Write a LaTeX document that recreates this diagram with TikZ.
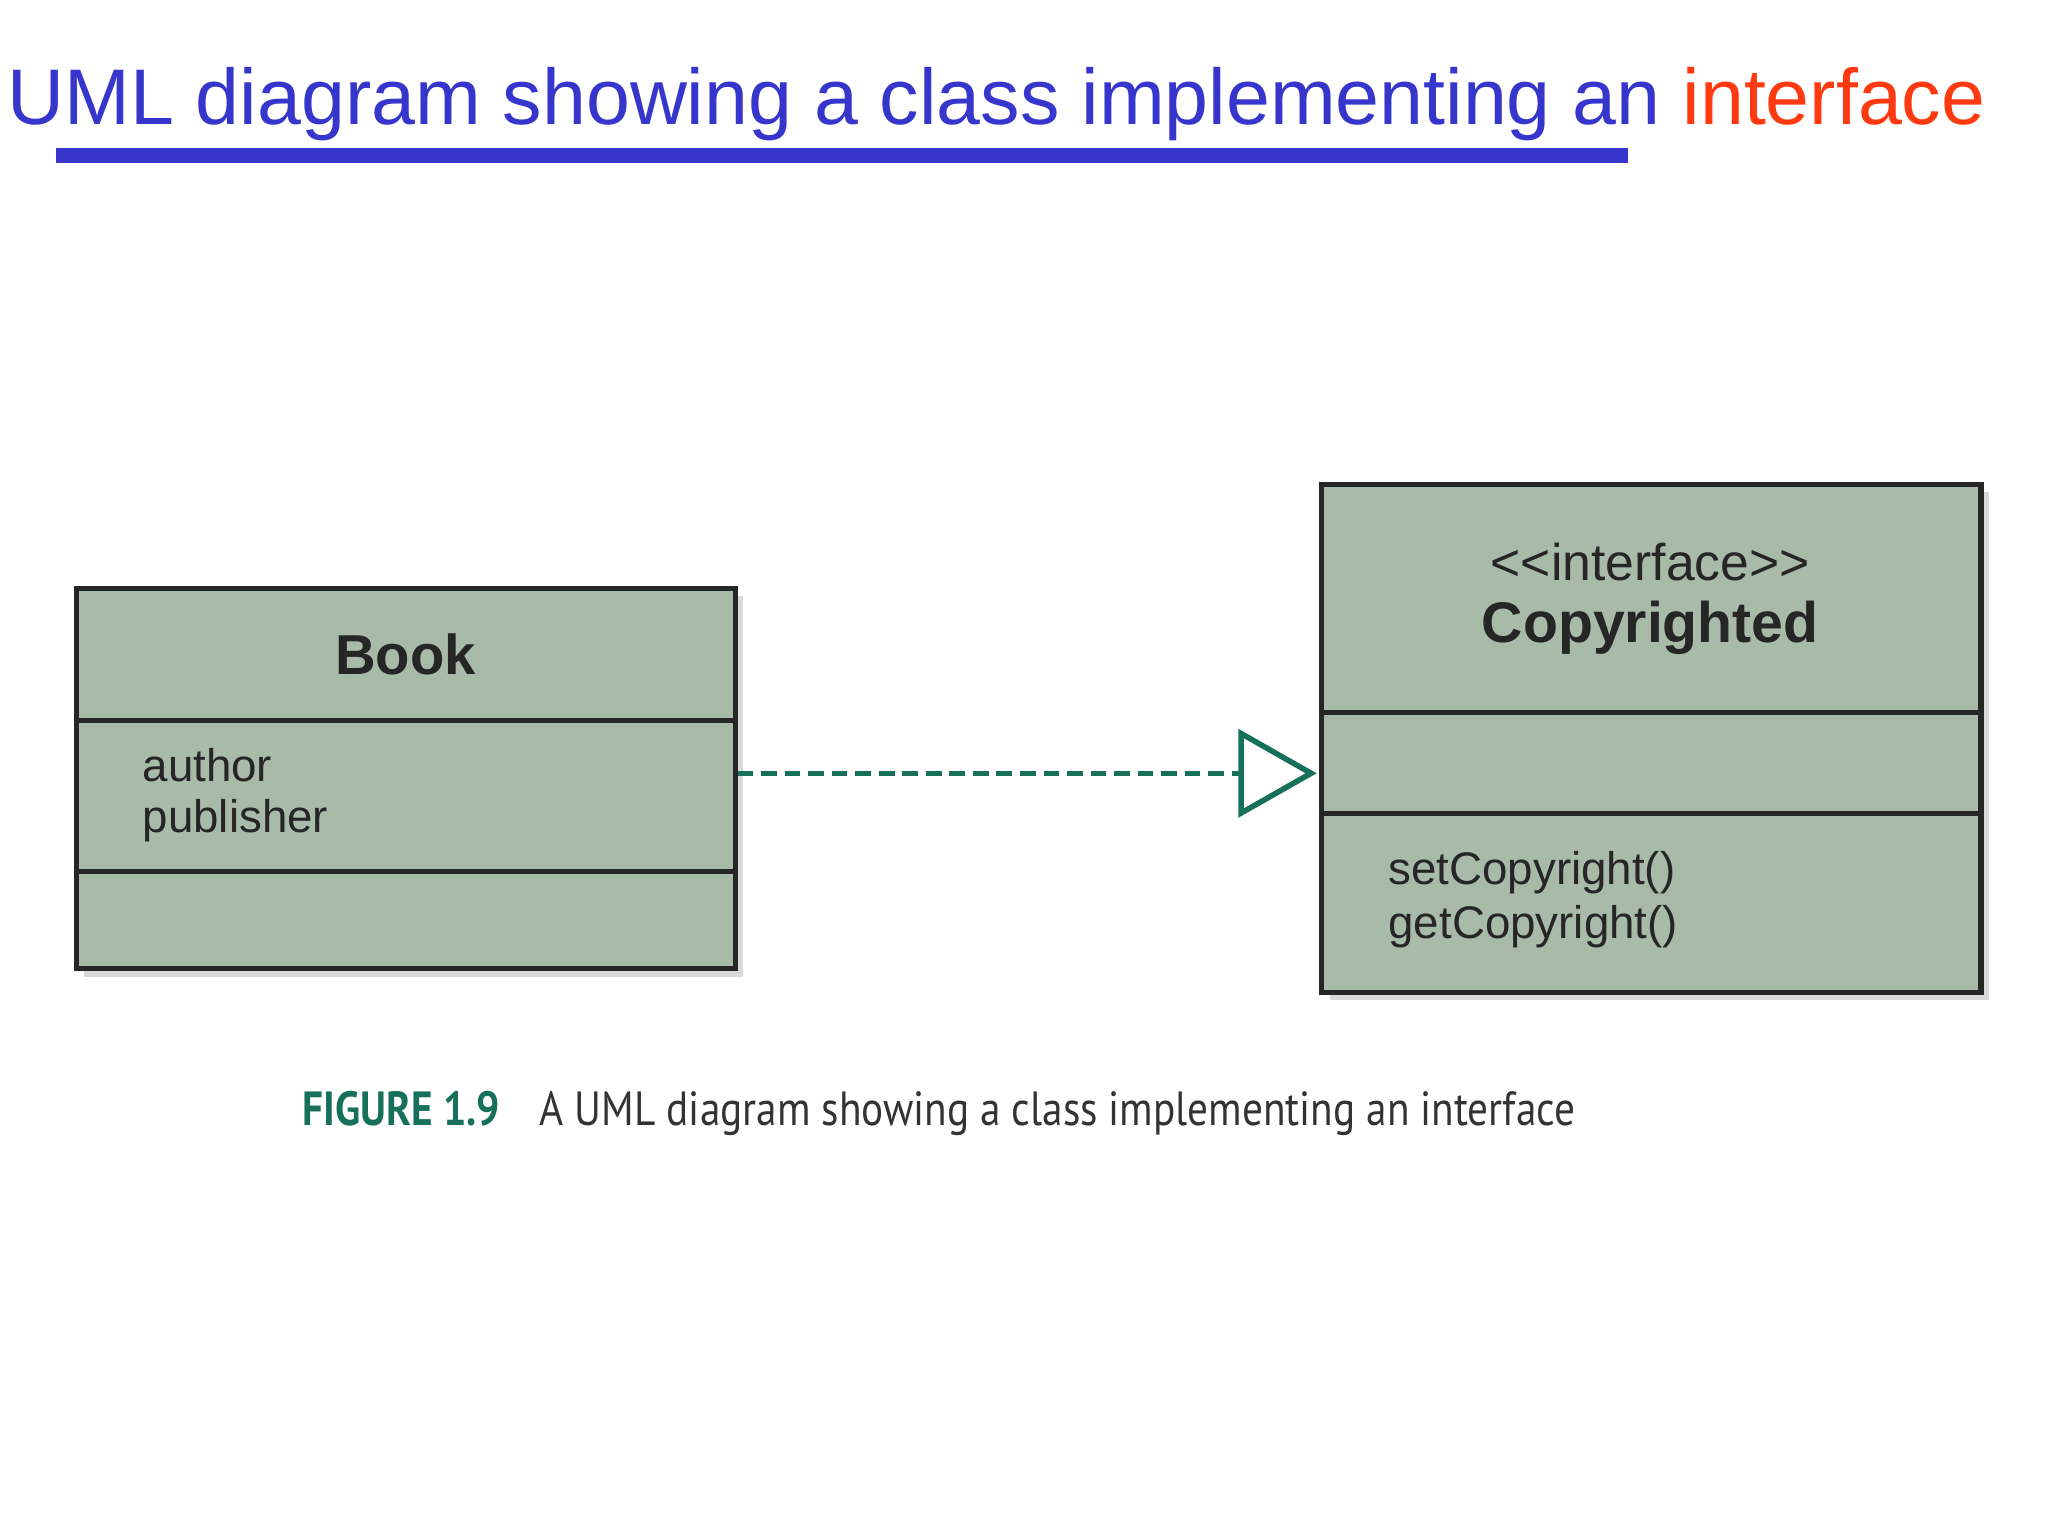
\documentclass[tikz,border=0pt]{standalone}
\usepackage{fontspec}
\setmainfont{Liberation Sans}
\newfontfamily\capfont[FakeStretch=0.86]{PT Sans}
\usetikzlibrary{arrows.meta,positioning}
\definecolor{titleblue}{HTML}{3636CC}
\definecolor{titlered}{HTML}{FF3A10}
\definecolor{boxgreen}{HTML}{A8BAA8}
\definecolor{linegreen}{HTML}{16705A}
\definecolor{capgray}{HTML}{333333}
\tikzset{
  compart/.style={draw=black!85,line width=1.1pt,fill=boxgreen,inner sep=0,anchor=north west},
  shadow/.style={fill=black!15,draw=none},
  member/.style={anchor=west,inner sep=0,font=\fontsize{9.9}{11.5}\selectfont,text=black!85,align=left},
  realize/.style={linegreen,line width=1.2pt,dash pattern=on 3.4pt off 1.7pt,
    -{Triangle[open,length=17pt,width=19pt,line width=1.2pt]}}
}
\begin{document}
\begin{tikzpicture}[x=0.1mm,y=-0.1mm]
\useasboundingbox (0,0) rectangle (1560,1170);
% title
\node[anchor=base west,inner sep=0,font=\fontsize{17.1}{20}\selectfont] (title) at (5,95)
  {\textcolor{titleblue}{UML diagram showing a class implementing an} \textcolor{titlered}{interface}};
\fill[titleblue] (43,113) rectangle (1240,124);
% shadows
\fill[shadow] (64,454) rectangle (566,744);
\fill[shadow] (1013,375) rectangle (1515,762);
% Book
\node[compart,minimum width=50.2mm,minimum height=10.1mm] (bookname) at (56,446) {};
\node[compart,minimum width=50.2mm,minimum height=11.5mm] (bookattr) at (56,547) {};
\node[compart,minimum width=50.2mm,minimum height=7.4mm] (bookops) at (56,662) {};
\node[font=\fontsize{12.2}{14}\selectfont\bfseries,text=black!85] at (bookname.center) {Book};
\node[member] at (108,583) {author};
\node[member] at (108,625) {publisher};
% Copyrighted
\node[compart,minimum width=50.2mm,minimum height=17.4mm] (ifname) at (1005,367) {};
\node[compart,minimum width=50.2mm,minimum height=7.7mm] (ifattr) at (1005,541) {};
\node[compart,minimum width=50.2mm,minimum height=13.6mm] (ifops) at (1005,618) {};
\node[font=\fontsize{11.2}{12}\selectfont,text=black!85] (stereo) at (1257,428) {{<}{<}interface{>}{>}};
\node[font=\fontsize{12.4}{14}\selectfont\bfseries,text=black!85] (ifcls) at (1257,478) {Copyrighted};
\node[member] at (1057,665) {setCopyright()};
\node[member] at (1057,706) {getCopyright()};
% realization
\coordinate (tip) at (1003,589);
\draw[realize] (bookattr.east |- tip) -- (tip);
% caption
\node[anchor=base west,inner sep=0,font=\capfont\fontsize{10.4}{13}\selectfont] (caption) at (230,857)
  {\textcolor{linegreen}{\bfseries FIGURE 1.9}\hspace{3mm}\textcolor{capgray}{A UML diagram showing a class implementing an interface}};
\end{tikzpicture}
\end{document}
